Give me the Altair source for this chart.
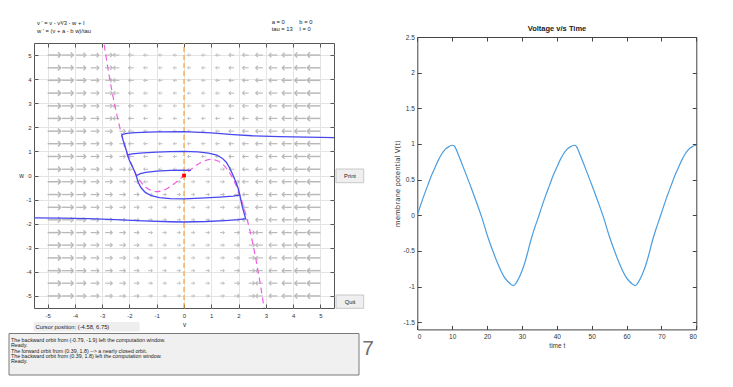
import altair as alt
import pandas as pd

# ------------------------------------------------------------------ data
ticks_left = [-5, -4, -3, -2, -1, 0, 1, 2, 3, 4, 5]
ticks_time = [0, 10, 20, 30, 40, 50, 60, 70, 80]
ticks_volt = [-1.5, -1, -0.5, 0, 0.5, 1, 1.5, 2, 2.5]

# direction field grid
field_v = [-5.0, -4.47, -3.95, -3.42, -2.89, -2.37, -1.84, -1.32, -0.79, -0.26,
           0.26, 0.79, 1.32, 1.84, 2.37, 2.89, 3.42, 3.95, 4.47, 5.0]
field_w = [5.0, 4.47, 3.95, 3.42, 2.89, 2.37, 1.84, 1.32, 0.79, 0.26,
           -0.26, -0.79, -1.32, -1.84, -2.37, -2.89, -3.42, -3.95, -4.47, -5.0]
row_dirs = [
    "RRRRRLLLLLLLLLLLLLLL",
    "RRRRRLLLLLLLLLLLLLLL",
    "RRRRRLLLLLLLLLLLLLLL",
    "RRRRRLLLLLLLLLLLLLLL",
    "RRRRRLLLLLLLLLLLLLLL",
    "RRRRRLLLLLLLLLLLLLLL",
    "RRRRRRLLLLLLLLLLLLLL",
    "RRRRRRLLLLLLLLLLLLLL",
    "RRRRRRLLLLLLLLLLLLLL",
    "RRRRRRLLLLLRRLLLLLLL",
    "RRRRRRRLLRRRRRLLLLLL",
    "RRRRRRRRRRRRRRLLLLLL",
    "RRRRRRRRRRRRRRLLLLLL",
    "RRRRRRRRRRRRRRLLLLLL",
    "RRRRRRRRRRRRRRRLLLLL",
    "RRRRRRRRRRRRRRRLLLLL",
    "RRRRRRRRRRRRRRRLLLLL",
    "RRRRRRRRRRRRRRRLLLLL",
    "RRRRRRRRRRRRRRRLLLLL",
    "RRRRRRRRRRRRRRRLLLLL",
]
arrow_len = [0.48, 0.41, 0.35, 0.30, 0.26, 0.22, 0.19, 0.16, 0.14, 0.13,
             0.13, 0.14, 0.16, 0.19, 0.22, 0.26, 0.30, 0.35, 0.41, 0.48]

# v-nullcline (dashed magenta)
nullcline_v = [-2.98, -2.8, -2.6, -2.4, -2.2, -2.0, -1.8, -1.6, -1.4, -1.2, -1.0, -0.8, -0.6,
               -0.3, 0.0, 0.3, 0.6, 0.8, 1.0, 1.2, 1.4, 1.6, 1.8, 2.0, 2.2, 2.4, 2.6, 2.8, 2.98]
nullcline_w = [5.84, 4.52, 3.26, 2.21, 1.35, 0.67, 0.14, -0.23, -0.49, -0.62, -0.67, -0.63, -0.53,
               -0.29, 0.0, 0.29, 0.53, 0.63, 0.67, 0.62, 0.49, 0.23, -0.14, -0.67, -1.35, -2.21, -3.26, -4.52, -5.84]

# trajectories (blue)
orbit_top_v = [5.6, 4.5, 3.5, 2.5, 1.8, 1.0, 0.0, -1.0, -1.8, -2.1, -2.25, -2.28,
               -2.24, -2.2, -2.15, -2.1, -2.08]
orbit_top_w = [1.57, 1.59, 1.61, 1.65, 1.70, 1.77, 1.82, 1.81, 1.78, 1.75, 1.71, 1.66,
               1.48, 1.35, 1.16, 0.99, 0.86]
cycle_v = [-2.08, -1.9, -1.5, -1.0, -0.5, 0.0, 0.5, 0.9, 1.2, 1.4, 1.55, 1.68, 1.76, 1.84,
           1.92, 1.99, 2.05, 1.8, 1.3, 0.6, 0.0, -0.5, -0.9, -1.2, -1.42, -1.58, -1.68,
           -1.74, -1.8, -1.9, -2.0, -2.08]
cycle_w = [0.86, 0.90, 0.94, 0.97, 0.99, 1.0, 0.98, 0.93, 0.85, 0.72, 0.55, 0.30, 0.10, -0.10,
           -0.32, -0.55, -0.82, -0.86, -0.90, -0.94, -0.97, -0.96, -0.92, -0.84, -0.70, -0.50,
           -0.28, -0.05, 0.14, 0.39, 0.62, 0.86]
orbit_bottom_v = [-5.6, -4.5, -3.5, -2.5, -1.5, -0.5, 0.0, 0.8, 1.5, 2.0, 2.26, 2.2, 2.14, 2.09, 2.05]
orbit_bottom_w = [-1.76, -1.77, -1.79, -1.83, -1.88, -1.92, -1.93, -1.91, -1.87, -1.83, -1.79,
                  -1.55, -1.30, -1.05, -0.82]
orbit_inner_v = [-1.73, -1.6, -1.4, -1.0, -0.5, 0.0, 0.25]
orbit_inner_w = [0.0, 0.08, 0.13, 0.18, 0.21, 0.22, 0.21]

# voltage trace (right panel)
time_t = [0, 1, 2, 3, 4, 5, 6, 7, 8, 9, 9.7, 10.2, 10.7, 11.2, 11.6, 12.5, 14, 15.5, 17, 18.5,
          20.2, 21.5, 23, 24, 25, 25.9, 26.8, 27.5, 28.1, 28.7, 29.5, 30.6, 31.5, 32.5, 33.5,
          34.9, 35.9, 36.9, 37.9, 38.9, 39.9, 40.9, 41.9, 42.9, 43.9, 44.6, 45.1, 45.6, 46.1,
          46.5, 47.4, 48.9, 50.4, 51.9, 53.4, 55.1, 56.4, 57.9, 58.9, 59.9, 60.8, 61.7, 62.4,
          63.0, 63.6, 64.4, 65.5, 66.4, 67.4, 68.4,
          69.8, 70.8, 71.8, 72.8, 73.8, 74.8, 75.8, 76.8, 77.8, 78.8, 79.5, 80.0]
voltage = [0.00, 0.15, 0.29, 0.42, 0.55, 0.66, 0.77, 0.86, 0.925, 0.96, 0.978, 0.982, 0.965,
           0.92, 0.87, 0.76, 0.57, 0.38, 0.18, -0.03, -0.30, -0.48, -0.67, -0.78, -0.87, -0.925,
           -0.965, -0.985, -0.965, -0.92, -0.84, -0.70, -0.55, -0.36, -0.20,
           0.00, 0.15, 0.29, 0.42, 0.55, 0.66, 0.77, 0.86, 0.925, 0.96, 0.978, 0.982, 0.965,
           0.92, 0.87, 0.76, 0.57, 0.38, 0.18, -0.03, -0.30, -0.48, -0.67, -0.78, -0.87, -0.925,
           -0.965, -0.985, -0.965, -0.92, -0.84, -0.70, -0.55, -0.36, -0.20,
           0.00, 0.15, 0.29, 0.42, 0.55, 0.66, 0.77, 0.86, 0.925, 0.96, 0.978, 0.982]

messages = [
    "The backward orbit from (-0.79, -1.9) left the computation window.",
    "Ready.",
    "The forward orbit from (0.39, 1.8) --> a nearly closed orbit.",
    "The backward orbit from (0.39, 1.8) left the computation window.",
    "Ready.",
]

# ------------------------------------------------------------------ tables
arrows = []
for i, w in enumerate(field_w):
    for j, v in enumerate(field_v):
        d = row_dirs[i][j]
        ln = arrow_len[j]
        arrows.append({"v": v, "w": w, "v2": v + ln if d == "R" else v - ln, "dir": d, "len": ln})
arrows_df = pd.DataFrame(arrows)

orbits = []
for name, vs, ws in [("top", orbit_top_v, orbit_top_w), ("cycle", cycle_v, cycle_w),
                     ("bottom", orbit_bottom_v, orbit_bottom_w), ("inner", orbit_inner_v, orbit_inner_w)]:
    for k, (v, w) in enumerate(zip(vs, ws)):
        orbits.append({"orbit": name, "k": k, "v": v, "w": w})
orbits_df = pd.DataFrame(orbits)
null_df = pd.DataFrame({"v": nullcline_v, "w": nullcline_w})
volt_df = pd.DataFrame({"t": time_t, "V": voltage})
dummy = pd.DataFrame({"v": [0.0], "w": [0.0], "t": [0.0], "V": [0.0]})

# ------------------------------------------------------------------ scales
W, H = 300, 265
FONT = "Liberation Sans"
LX = alt.Scale(domain=[-5.5, 5.5], range=[0, W], nice=False, zero=False)
LY = alt.Scale(domain=[-5.5, 5.5], range=[H, 0], nice=False, zero=False)
RX = alt.Scale(domain=[0, 80], range=[383.3, 662.3], nice=False, zero=False)
RY = alt.Scale(domain=[-1.6, 2.5], range=[286.4, -6], nice=False, zero=False)
LBL = "'' + datum.value"

layers = []

# left axes with grid and labels
layers.append(alt.Chart(dummy).mark_point(opacity=0).encode(
    x=alt.X("v:Q", scale=LX, axis=alt.Axis(
        orient="bottom", values=ticks_left, grid=True, gridColor="#e4e4e4", ticks=False,
        domain=False, labelFontSize=6, labelFont=FONT, labelColor="#333", labelPadding=4,
        labelExpr=LBL, title="v", titleFont=FONT, titleFontSize=6.5, titleFontWeight="normal",
        titleColor="#333", titlePadding=3)),
    y=alt.Y("w:Q", scale=LY, axis=alt.Axis(
        orient="left", values=ticks_left, grid=True, gridColor="#e4e4e4", ticks=False,
        domain=False, labelFontSize=6, labelFont=FONT, labelColor="#333", labelPadding=3,
        labelExpr=LBL, title="w", titleFont=FONT, titleFontSize=6.5, titleFontWeight="normal",
        titleColor="#333", titleAngle=0, titleX=-13, titleY=132, titleAlign="center",
        titleBaseline="middle")),
))

def tick_axis_x(scale, orient, offset, values):
    return alt.Chart(dummy).mark_point(opacity=0).encode(
        x=alt.X("v:Q", scale=scale, axis=alt.Axis(
            orient=orient, offset=offset, values=values, labels=False, grid=False,
            domain=False, tickSize=4, tickColor="#555", title="")))

def tick_axis_y(scale, orient, offset, values, domain=False):
    return alt.Chart(dummy).mark_point(opacity=0).encode(
        y=alt.Y("w:Q", scale=scale, axis=alt.Axis(
            orient=orient, offset=offset, values=values, labels=False, grid=False,
            domain=domain, domainColor="#444", tickSize=4, tickColor="#555", title="")))

layers += [
    tick_axis_x(LX, "bottom", -H, ticks_left),
    tick_axis_x(LX, "top", -H, ticks_left),
    tick_axis_y(LY, "right", -W, ticks_left),
    tick_axis_y(LY, "left", -W, ticks_left),
]

# direction field
layers.append(alt.Chart(arrows_df).mark_rule(color="#b9b9b9", clip=True).encode(
    x=alt.X("v:Q", scale=LX, axis=None), x2="v2:Q",
    y=alt.Y("w:Q", scale=LY, axis=None),
    strokeWidth=alt.StrokeWidth("len:Q", scale=alt.Scale(domain=[0.13, 0.48], range=[0.9, 1.5]), legend=None),
))
PATH_R = "M-1,-1L0,0L-1,1"
PATH_L = "M1,-1L0,0L1,1"
layers.append(alt.Chart(arrows_df).mark_point(color="#b9b9b9", filled=False, clip=True, opacity=1).encode(
    x=alt.X("v2:Q", scale=LX, axis=None),
    y=alt.Y("w:Q", scale=LY, axis=None),
    shape=alt.Shape("dir:N", scale=alt.Scale(domain=["L", "R"], range=[PATH_L, PATH_R]), legend=None),
    size=alt.Size("len:Q", scale=alt.Scale(domain=[0.13, 0.48], range=[10, 30]), legend=None),
    strokeWidth=alt.StrokeWidth("len:Q", scale=alt.Scale(domain=[0.13, 0.48], range=[0.9, 1.4]), legend=None),
))

# w-nullcline (orange, v = 0)
vline_df = pd.DataFrame({"v": [0.0], "w1": [-5.5], "w2": [5.5]})
layers.append(alt.Chart(vline_df).mark_rule(color="#ffa030", strokeDash=[5, 3], strokeWidth=1.2).encode(
    x=alt.X("v:Q", scale=LX, axis=None), y=alt.Y("w1:Q", scale=LY, axis=None), y2="w2:Q"))

# v-nullcline
layers.append(alt.Chart(null_df).mark_line(color="#f060e0", strokeDash=[6, 4], strokeWidth=1.2,
                                           clip=True, interpolate="monotone").encode(
    x=alt.X("v:Q", scale=LX, axis=None), y=alt.Y("w:Q", scale=LY, axis=None)))

# orbits
layers.append(alt.Chart(orbits_df).mark_line(color="#4848f0", strokeWidth=1.3, clip=True).encode(
    x=alt.X("v:Q", scale=LX, axis=None), y=alt.Y("w:Q", scale=LY, axis=None),
    detail="orbit:N", order="k:Q"))

# equilibrium
layers.append(alt.Chart(dummy).mark_square(color="#ff0000", size=14, opacity=1).encode(
    x=alt.X("v:Q", scale=LX, axis=None), y=alt.Y("w:Q", scale=LY, axis=None)))

# ------------------------------------------------------------------ right panel
layers.append(alt.Chart(dummy).mark_point(opacity=0).encode(
    x=alt.X("t:Q", scale=RX, axis=alt.Axis(
        orient="bottom", offset=21.4, values=ticks_time, grid=False, ticks=False, domain=True,
        domainColor="#444", labelFontSize=6.5, labelFont=FONT, labelColor="#333", labelPadding=4,
        labelExpr=LBL, title="time t", titleFont=FONT, titleFontSize=6.5, titleFontWeight="normal",
        titleColor="#333", titlePadding=3)),
    y=alt.Y("V:Q", scale=RY, axis=alt.Axis(
        orient="left", offset=-383.3, values=ticks_volt, grid=False, ticks=False, domain=True,
        domainColor="#444", labelFontSize=6.5, labelFont=FONT, labelColor="#333", labelPadding=3,
        labelExpr=LBL, title="membrane potential V(t)", titleFont="DejaVu Sans", titleFontSize=7,
        titleFontWeight="normal", titleColor="#333", titleAngle=270, titleX=-19.6,
        titleAlign="center", titleBaseline="middle")),
))

def tick_axis_t(orient, offset, domain):
    return alt.Chart(dummy).mark_point(opacity=0).encode(
        x=alt.X("t:Q", scale=RX, axis=alt.Axis(
            orient=orient, offset=offset, values=ticks_time, labels=False, grid=False,
            domain=domain, domainColor="#444", tickSize=4, tickColor="#444", title="")))

def tick_axis_v(orient, offset, domain):
    return alt.Chart(dummy).mark_point(opacity=0).encode(
        y=alt.Y("V:Q", scale=RY, axis=alt.Axis(
            orient=orient, offset=offset, values=ticks_volt, labels=False, grid=False,
            domain=domain, domainColor="#444", tickSize=4, tickColor="#444", title="")))

layers += [
    tick_axis_t("top", -286.4, False),
    tick_axis_t("bottom", -271, True),
    tick_axis_v("right", 83.3, False),
    tick_axis_v("left", -662.3, True),
]

layers.append(alt.Chart(volt_df).mark_line(color="#4a9ddf", strokeWidth=1.2, interpolate="monotone").encode(
    x=alt.X("t:Q", scale=RX, axis=None), y=alt.Y("V:Q", scale=RY, axis=None)))

# ------------------------------------------------------------------ annotations
def txt(s, x, y, size=5.8, align="left", weight="normal", font=FONT, color="#222"):
    return alt.Chart(dummy).mark_text(text=s, align=align, baseline="middle", fontSize=size,
                                      fontWeight=weight, font=font, color=color).encode(
        x=alt.value(x), y=alt.value(y))

def box(x1, x2, y1, y2, fill="#efefef", stroke="#c8c8c8"):
    return alt.Chart(dummy).mark_rect(fill=fill, stroke=stroke, strokeWidth=1).encode(
        x=alt.value(x1), x2=alt.value(x2), y=alt.value(y1), y2=alt.value(y2))

# invisible anchor that pins the page origin
layers.append(alt.Chart(dummy).mark_rect(opacity=0).encode(
    x=alt.value(-25), x2=alt.value(-24), y=alt.value(-35), y2=alt.value(-34)))

layers += [
    txt("v ' = v - v³/3 - w + I", 3, -20),
    txt("w ' = (v + a - b w)/tau", 3, -12.3),
    txt("a = 0", 237.7, -21.3),
    txt("b = 0", 265.3, -21.3),
    txt("tau = 13", 237.7, -13.7),
    txt("I = 0", 265.3, -13.7),
    box(302, 329.7, 126, 139.7),
    txt("Print", 316, 133, align="center"),
    box(302, 329.7, 252, 265.3),
    txt("Quit", 316, 258.7, align="center"),
    box(0, 105, 279.5, 288, fill="#eeeeee", stroke="#eeeeee"),
    txt("Cursor position:   (-4.58, 6.75)", 1.5, 283.8, size=5.8),
    box(-25, 325, 290.5, 332, fill="#f0f0f0", stroke="#7a7a7a"),
    txt("7", 334, 306, size=21, font=FONT, align="center", color="#707070"),
    txt("Voltage v/s Time", 523, -14.3, size=7.5, align="center", weight="bold",
        font="Liberation Sans Narrow, Liberation Sans"),
]
for n, line in enumerate(messages):
    layers.append(txt(line, -23, 297 + n * 5.3, size=5.3))

chart = alt.layer(*layers).resolve_scale(
    x="independent", y="independent"
).properties(
    width=W, height=H, padding=0, background="white"
).configure_view(stroke="#555", strokeWidth=1)

chart.save("out.html", embed_options={"renderer": "svg", "actions": False})
